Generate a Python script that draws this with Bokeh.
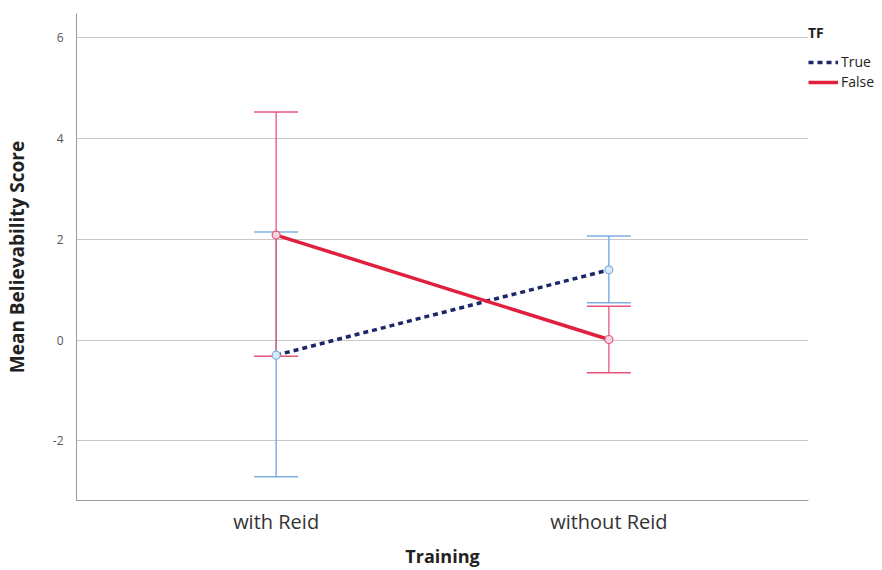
from bokeh.plotting import figure
from bokeh.models import (FactorRange, Range1d, ColumnDataSource, Whisker, TeeHead,
                          Legend, LegendItem, FixedTicker)
from bokeh.embed import file_html
from bokeh.resources import INLINE

categories = ["with Reid", "without Reid"]
true_mean = [-0.30, 1.39]
true_upper = [2.14, 2.06]
true_lower = [-2.71, 0.74]
false_mean = [2.08, 0.01]
false_upper = [4.52, 0.67]
false_lower = [-0.32, -0.65]
y_ticks = [-2, 0, 2, 4, 6]

FONT = "Open Sans"
NAVY = "#1b2768"
LIGHTBLUE = "#7fb0e3"
RED = "#e0203c"
PINK = "#e8527a"

p = figure(width=874, height=570, output_backend="svg", toolbar_location=None,
           x_range=FactorRange(factors=categories, range_padding=0.1),
           y_range=Range1d(-3.18, 6.47),
           frame_width=732, frame_height=487,
           min_border_left=65, min_border_right=0, min_border_top=13, min_border_bottom=70)
p.outline_line_color = None
p.background_fill_color = "white"

src_t = ColumnDataSource(dict(x=categories, m=true_mean, u=true_upper, l=true_lower))
src_f = ColumnDataSource(dict(x=categories, m=false_mean, u=false_upper, l=false_lower))

wt = Whisker(source=src_t, base="x", upper="u", lower="l", dimension="height",
             line_color=LIGHTBLUE, line_width=1.5,
             upper_head=TeeHead(size=44, line_color=LIGHTBLUE, line_width=1.5),
             lower_head=TeeHead(size=44, line_color=LIGHTBLUE, line_width=1.5))
wf = Whisker(source=src_f, base="x", upper="u", lower="l", dimension="height",
             line_color=PINK, line_width=1.5, line_alpha=0.85,
             upper_head=TeeHead(size=44, line_color=PINK, line_width=1.5),
             lower_head=TeeHead(size=44, line_color=PINK, line_width=1.5))
p.add_layout(wt)
p.add_layout(wf)

lt = p.line("x", "m", source=src_t, line_color=NAVY, line_width=3.5, line_dash="5 4")
lf = p.line("x", "m", source=src_f, line_color=RED, line_width=3.5)
p.scatter("x", "m", source=src_t, size=8, fill_color="#dce8f7", line_color=LIGHTBLUE, line_width=1.2)
p.scatter("x", "m", source=src_f, size=8, fill_color="#f7d5de", line_color=PINK, line_width=1.2)

legend = Legend(items=[LegendItem(label="True", renderers=[lt]),
                       LegendItem(label="False", renderers=[lf])],
                title="TF", location=(0, 409))
legend.title_text_font = FONT
legend.title_text_font_style = "bold"
legend.title_text_font_size = "14px"
legend.title_text_color = "#222222"
legend.title_standoff = 10
legend.label_text_font = FONT
legend.label_text_font_size = "14px"
legend.label_text_color = "#222222"
legend.glyph_width = 30
legend.glyph_height = 18
legend.label_height = 18
legend.spacing = 1
legend.padding = 2
legend.margin = 0
legend.label_standoff = 3
legend.border_line_color = None
legend.background_fill_alpha = 0
p.add_layout(legend, "right")

p.xaxis.axis_label = "Training"
p.yaxis.axis_label = "Mean Believability Score"
for ax in (p.xaxis, p.yaxis):
    ax.axis_label_text_font = FONT
    ax.axis_label_text_font_style = "bold"
    ax.axis_label_text_font_size = "19px"
    ax.axis_label_text_color = "#222222"
    ax.major_label_text_font = FONT
    ax.axis_line_color = "#9a9a9a"
    ax.major_tick_line_color = None
    ax.minor_tick_line_color = None
p.xaxis.axis_label_text_font_size = "18px"
p.xaxis.major_label_text_font_size = "20px"
p.xaxis.major_label_text_color = "#333333"
p.xaxis.major_label_standoff = 1
p.xaxis.axis_label_standoff = 6
p.yaxis.major_label_text_font_size = "12px"
p.yaxis.major_label_text_color = "#555555"
p.yaxis.major_label_standoff = 7
p.yaxis.axis_label_standoff = 20
p.yaxis.ticker = FixedTicker(ticks=y_ticks)
p.yaxis.major_label_overrides = {-2: "-2", 0: "0", 2: "2", 4: "4", 6: "6"}
p.xgrid.grid_line_color = None
p.ygrid.grid_line_color = "#c8c8c8"
p.ygrid.grid_line_width = 1

open("out.html", "w").write(file_html(p, INLINE))
